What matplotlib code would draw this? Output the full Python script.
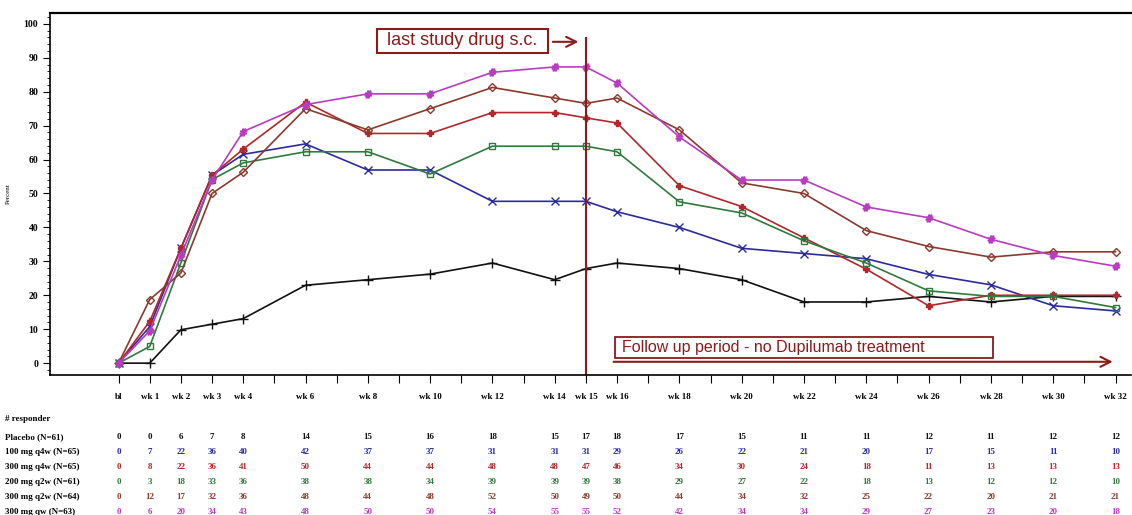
import numpy as np
import matplotlib.pyplot as plt
from matplotlib.ticker import MultipleLocator
from matplotlib.patches import Rectangle

weeks = [0, 1, 2, 3, 4, 6, 8, 10, 12, 14, 15, 16, 18, 20, 22, 24, 26, 28, 30, 32]
week_labels = ['bl', 'wk 1', 'wk 2', 'wk 3', 'wk 4', 'wk 6', 'wk 8', 'wk 10', 'wk 12',
               'wk 14', 'wk 15', 'wk 16', 'wk 18', 'wk 20', 'wk 22', 'wk 24', 'wk 26',
               'wk 28', 'wk 30', 'wk 32']

groups = ['Placebo (N=61)', '100 mg q4w (N=65)', '300 mg q4w (N=65)',
          '200 mg q2w (N=61)', '300 mg q2w (N=64)', '300 mg qw (N=63)']
n_pat = [61, 65, 65, 61, 64, 63]

placebo = [0, 0, 6, 7, 8, 14, 15, 16, 18, 15, 17, 18, 17, 15, 11, 11, 12, 11, 12, 12]
q4w_100 = [0, 7, 22, 36, 40, 42, 37, 37, 31, 31, 31, 29, 26, 22, 21, 20, 17, 15, 11, 10]
q4w_300 = [0, 8, 22, 36, 41, 50, 44, 44, 48, 48, 47, 46, 34, 30, 24, 18, 11, 13, 13, 13]
q2w_200 = [0, 3, 18, 33, 36, 38, 38, 34, 39, 39, 39, 38, 29, 27, 22, 18, 13, 12, 12, 10]
q2w_300 = [0, 12, 17, 32, 36, 48, 44, 48, 52, 50, 49, 50, 44, 34, 32, 25, 22, 20, 21, 21]
qw_300 = [0, 6, 20, 34, 43, 48, 50, 50, 54, 55, 55, 52, 42, 34, 34, 29, 27, 23, 20, 18]
counts = [placebo, q4w_100, q4w_300, q2w_200, q2w_300, qw_300]

colors = ['#111111', '#2b2b9c', '#b3262a', '#2f7a3c', '#8a3a2c', '#b83cc0']
markers = ['+', 'x', 'P', 's', 'D', '$\\#$']
msizes = [7, 6, 4, 5, 4, 5]

fig = plt.figure(figsize=(11.32, 5.15), dpi=100)
ax = fig.add_axes([0.0442, 0.2718, 0.955, 0.703])

for cnt, n, c, m, ms in zip(counts, n_pat, colors, markers, msizes):
    pct = np.array(cnt) / n * 100
    fill = 'none' if m in ('s', 'D') else c
    ax.plot(weeks, pct, color=c, lw=1.2, marker=m, ms=ms, mfc=fill, mec=c, mew=1.0)

ax.set_xlim(-2.2, 32.5)
ax.set_ylim(-3.5, 103.2)
ax.set_xticks(range(0, 33))
ax.set_xticklabels([])
ax.yaxis.set_major_locator(MultipleLocator(10))
ax.yaxis.set_minor_locator(MultipleLocator(2))
ax.tick_params(axis='x', length=6, width=0.8, direction='out')
ax.tick_params(axis='y', which='major', length=5, labelsize=7)
ax.tick_params(axis='y', which='minor', length=2.5)
for lab in ax.get_yticklabels():
    lab.set_family('Liberation Serif')
    lab.set_fontweight('bold')
ax.spines['right'].set_visible(False)
ax.spines['top'].set_linewidth(1.6)
ax.spines['left'].set_linewidth(1.2)
ax.spines['bottom'].set_linewidth(1.2)
ax.set_ylabel('Percent', fontsize=5, family='Liberation Serif')
ax.yaxis.set_label_coords(-0.036, 0.5)

tr = ax.get_xaxis_transform()
for w, lab in zip(weeks, week_labels):
    ax.text(w, -0.06, lab, transform=tr, ha='center', va='center', fontsize=6.5,
            family='Liberation Serif', fontweight='bold')

# end of study drug
dred = '#8b1a1a'
ax.plot([15, 15], [-3.5, 95.8], color=dred, lw=1.5)
ax.add_patch(Rectangle((8.3, 91.4), 5.48, 7.1, fc='white', ec=dred, lw=1.5, zorder=3))
ax.text(11.04, 95.0, 'last study drug s.c.', ha='center', va='center', fontsize=13,
        family='Liberation Sans', color=dred, zorder=4)
ax.annotate('', xy=(14.85, 94.7), xytext=(13.85, 94.7),
            arrowprops=dict(arrowstyle='->', color=dred, lw=1.5, mutation_scale=18))

# follow-up period
ax.add_patch(Rectangle((15.95, 1.5), 12.13, 6.2, fc='white', ec=dred, lw=1.3, zorder=3))
ax.text(16.15, 4.6, 'Follow up period - no Dupilumab treatment', ha='left', va='center',
        fontsize=11.5, family='Liberation Sans', color=dred, zorder=4)
ax.annotate('', xy=(32.0, 0.4), xytext=(15.8, 0.4),
            arrowprops=dict(arrowstyle='->', color=dred, lw=1.5, mutation_scale=18))

# responder table
fig.text(0.004, 1 - 419 / 515, '# responder', fontsize=6.5, family='Liberation Serif',
         fontweight='bold', va='center')
for i, (g, cnt, c) in enumerate(zip(groups, counts, colors)):
    yfig = 1 - (437 + i * 15) / 515
    fig.text(0.004, yfig, g, fontsize=6.5, family='Liberation Serif', fontweight='bold',
             va='center')
    yax = (yfig - 0.2718) / 0.703
    for w, v in zip(weeks, cnt):
        ax.text(w, yax, str(v), transform=tr, ha='center', va='center', fontsize=6.5,
                family='Liberation Serif', fontweight='bold', color=c)

fig.savefig('out.png', dpi=100)
